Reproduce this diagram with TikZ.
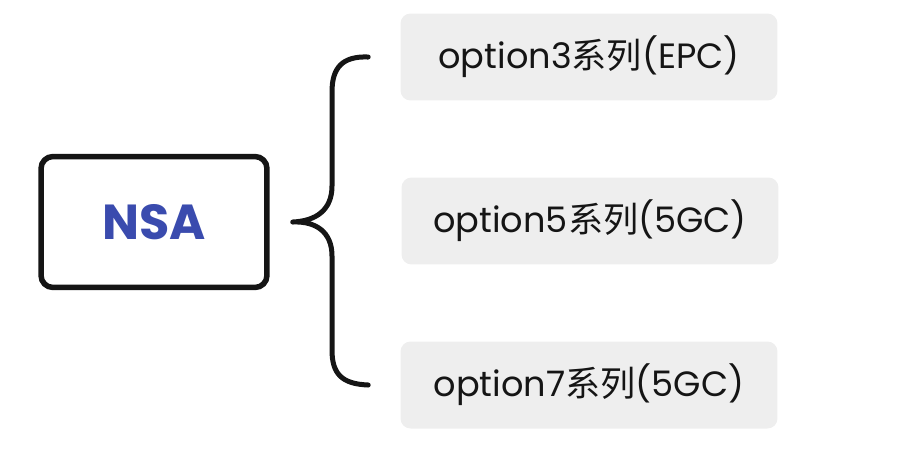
\documentclass[tikz,border=0pt]{standalone}
\usepackage{fontspec}
\setmainfont{Poppins}
\newfontfamily\cjk{Noto Sans CJK SC}
\usetikzlibrary{positioning, calc}
\definecolor{nsablue}{HTML}{3A4BAE}
\definecolor{optgray}{HTML}{EEEEEE}
\definecolor{inkblack}{HTML}{151515}

\begin{document}
\begin{tikzpicture}[x=0.02cm, y=-0.02cm]
\tikzset{
  rootbox/.style={draw=inkblack, line width=0.11cm, rounded corners=0.24cm, fill=white,
    minimum width=4.52cm, minimum height=2.62cm, text=nsablue, font=\fontsize{28}{32}\selectfont\bfseries},
  optbox/.style={fill=optgray, rounded corners=0.2cm, minimum width=7.54cm, minimum height=1.74cm,
    text=inkblack, font=\fontsize{20}{24}\selectfont},
  bracket/.style={draw=inkblack, line width=0.1cm, line cap=round, line join=round}
}
\useasboundingbox (0,0) rectangle (904,468);

% Root node
\node[rootbox] (nsa) at (154,222) {NSA};

% Options
\node[optbox] (opt3) at (589,57) {option3{\cjk 系列}(EPC)};
\node[optbox] (opt5) at (590,221) {option5{\cjk 系列}(5GC)};
\node[optbox] (opt7) at (589,385) {option7{\cjk 系列}(5GC)};

% Brace
\coordinate (tip) at ($(nsa.east)+(23,0)$);
\coordinate (top) at ($(opt3.west)+(-32,0)$);
\coordinate (bot) at ($(opt7.west)+(-32,0)$);
\draw[bracket] (top) .. controls (342,56) and (332,68) .. (332,92) -- (332,186)
  .. controls (332,210) and (316,221) .. (tip)
  .. controls (316,221) and (332,232) .. (332,256) -- (332,350)
  .. controls (332,374) and (342,384) .. (bot);
\end{tikzpicture}
\end{document}
